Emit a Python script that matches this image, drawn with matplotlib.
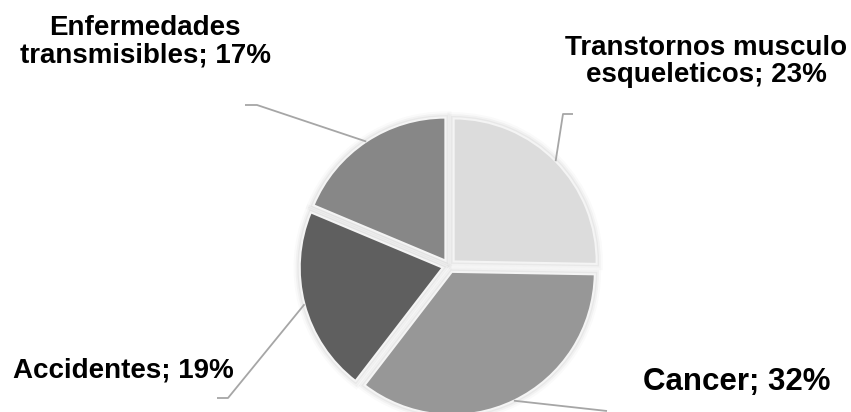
import matplotlib.pyplot as plt
import numpy as np

# valores
categorias = ['Transtornos musculo\nesqueleticos', 'Cancer', 'Accidentes',
              'Enfermedades\ntransmisibles']
valores = [23, 32, 19, 17]
colores = ['#dcdcdc', '#979797', '#5f5f5f', '#878787']

W, H = 851, 412
fig = plt.figure(figsize=(W / 100, H / 100), dpi=100)
ax = fig.add_axes([0, 0, 1, 1])

# todo en pixeles, y medida desde arriba -> H - y
cx, cy, r = 449, H - 266, 143
explode = [6.5] * len(valores)   # en matplotlib el explode va en unidades de datos

# sombra suave alrededor de cada porcion
for lw, a in [(9, 0.02), (6, 0.03), (3.5, 0.04)]:
    ax.pie(valores, startangle=90, counterclock=False, center=(cx, cy), radius=r,
           explode=explode,
           wedgeprops=dict(linewidth=lw, edgecolor=(0, 0, 0, a), facecolor=(0, 0, 0, 0)),
           frame=True)

wedges, _ = ax.pie(valores, startangle=90, counterclock=False, center=(cx, cy),
                   radius=r, explode=explode, colors=colores,
                   wedgeprops=dict(linewidth=1.5, edgecolor='#f4f4f4'), frame=True)
ax.set_xlim(0, W)
ax.set_ylim(0, H)
ax.set_aspect('equal')
ax.axis('off')

# etiquetas: x, baseline de la ultima linea, alineacion, tamano
etq_pos = [(706, 82, 'center', 20), (643, 390, 'left', 22.5),
           (13, 377, 'left', 20), (145, 62, 'center', 20)]
codos = [[(563, 114), (573, 114)], [(607, 411)], [(228, 398), (217, 398)],
         [(257, 105), (245, 105)]]

for i, w in enumerate(wedges):
    ang = np.deg2rad((w.theta1 + w.theta2) / 2)
    wx, wy = w.center
    px = wx + r * np.cos(ang)
    py = wy + r * np.sin(ang)
    xs = [px] + [p[0] for p in codos[i]]
    ys = [py] + [H - p[1] for p in codos[i]]
    ax.plot(xs, ys, color='#a6a6a6', lw=1.3, zorder=5, solid_capstyle='butt')
    x, y, ha, fs = etq_pos[i]
    ax.text(x, H - y, f'{categorias[i]}; {valores[i]}%', ha=ha, va='baseline',
            fontsize=fs, fontweight='bold', family='Liberation Sans',
            linespacing=1.07, color='black', multialignment='center')

fig.savefig('out.png', dpi=100)
